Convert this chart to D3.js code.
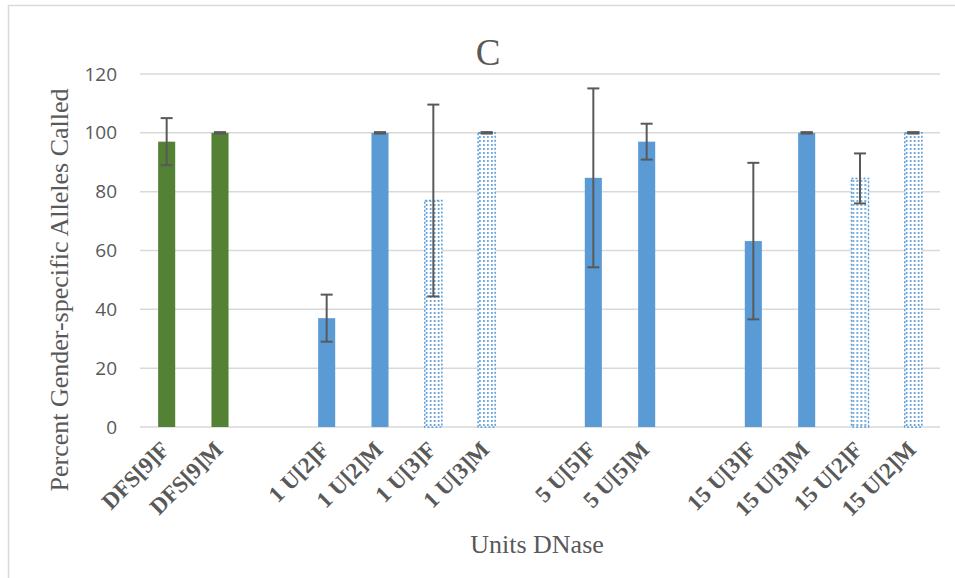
<!DOCTYPE html>
<html>
<head>
<meta charset="utf-8">
<script src="https://cdn.jsdelivr.net/npm/d3@7"></script>
<style>
  body { margin: 0; background: #fff; }
</style>
</head>
<body>
<svg id="chart"></svg>
<script>
// slots with empty keys for the gaps between groups
const categories = ['DFS[9]F', 'DFS[9]M', ' ', '1 U[2]F', '1 U[2]M', '1 U[3]F', '1 U[3]M', '  ',
  '5 U[5]F', '5 U[5]M', '   ', '15 U[3]F', '15 U[3]M', '15 U[2]F', '15 U[2]M']
const values = [97, 100, null, 37, 100, 77, 100, null, 84.7, 97, null, 63.2, 100, 84.5, 100]
const errors = [8, 0, null, 8, 0, 32.6, 0, null, 30.4, 6.1, null, 26.6, 0, 8.5, 0]
const styles = ['green', 'green', null, 'solid', 'solid', 'dots', 'dots', null,
  'solid', 'solid', null, 'solid', 'solid', 'dots', 'dots']
const yTicks = [0, 20, 40, 60, 80, 100, 120]

const width = 955
const height = 578
const margin = { left: 140, right: 15, top: 74, bottom: 151 }

const GREEN = '#548235'
const BLUE = '#5b9bd5'
const GRID = '#d9d9d9'
const TEXT = '#595959'
const SERIF = '"Liberation Serif", "Times New Roman", serif'
const SANS = '"Open Sans", "Liberation Sans", sans-serif'

const svg = d3.select('#chart')
  .attr('width', width)
  .attr('height', height)
  .attr('viewBox', [0, 0, width, height])

// outer chart frame
svg.append('rect')
  .attr('x', 8.5).attr('y', 5.5)
  .attr('width', 1000).attr('height', 700)
  .attr('fill', 'none')
  .attr('stroke', GRID)
  .attr('stroke-width', 1.5)

const x = d3.scaleBand()
  .domain(categories)
  .range([margin.left, width - margin.right])
  .paddingInner(0.68)
  .paddingOuter(0.34)

const y = d3.scaleLinear()
  .domain([0, 120])
  .range([height - margin.bottom, margin.top])

const rows = categories.map((c, i) => ({
  cat: c, value: values[i], err: errors[i], style: styles[i]
})).filter(d => d.value !== null)

// dot patterns, one per dotted bar so dots line up with the bar edge
const defs = svg.append('defs')
rows.filter(d => d.style === 'dots').forEach((d, i) => {
  const p = defs.append('pattern')
    .attr('id', 'dots' + i)
    .attr('patternUnits', 'userSpaceOnUse')
    .attr('x', x(d.cat) + 1)
    .attr('y', 0)
    .attr('width', 4)
    .attr('height', 4)
  p.append('rect').attr('width', 4).attr('height', 4).attr('fill', '#fff')
  p.append('rect').attr('x', 0).attr('y', 0).attr('width', 1.6).attr('height', 2).attr('fill', BLUE)
  d.patternId = 'dots' + i
})

// gridlines
svg.append('g')
  .selectAll('line')
  .data(yTicks)
  .join('line')
    .attr('x1', margin.left)
    .attr('x2', width - margin.right)
    .attr('y1', d => y(d))
    .attr('y2', d => y(d))
    .attr('stroke', GRID)
    .attr('stroke-width', 1.5)

// y tick labels
svg.append('g')
  .selectAll('text')
  .data(yTicks)
  .join('text')
    .style('font-family', SANS)
    .attr('x', 117)
    .attr('y', d => y(d))
    .attr('dy', '0.35em')
    .attr('text-anchor', 'end')
    .attr('font-size', 19)
    .attr('fill', TEXT)
    .text(d => d)

// bars
svg.append('g')
  .selectAll('rect')
  .data(rows)
  .join('rect')
    .attr('x', d => x(d.cat))
    .attr('width', x.bandwidth())
    .attr('y', d => y(d.value))
    .attr('height', d => y(0) - y(d.value))
    .attr('fill', d => d.style === 'green' ? GREEN : d.style === 'solid' ? BLUE : `url(#${d.patternId})`)
    .attr('stroke', d => d.style === 'dots' ? BLUE : 'none')
    .attr('stroke-width', 1.5)
    .attr('stroke-dasharray', d => d.style === 'dots' ? '2,2' : null)

// error bars
const eb = svg.append('g')
  .attr('stroke', TEXT)
  .attr('fill', 'none')
  .selectAll('g')
  .data(rows)
  .join('g')
    .attr('transform', d => `translate(${x(d.cat) + x.bandwidth() / 2},0)`)

eb.append('line')
  .attr('y1', d => y(d.value + d.err))
  .attr('y2', d => y(d.value - d.err))
  .attr('stroke-width', 2)
eb.append('line')
  .attr('x1', -6).attr('x2', 6)
  .attr('y1', d => y(d.value + d.err))
  .attr('y2', d => y(d.value + d.err))
  .attr('stroke-width', d => d.err === 0 ? 3 : 2)
eb.append('line')
  .attr('x1', -6).attr('x2', 6)
  .attr('y1', d => y(d.value - d.err))
  .attr('y2', d => y(d.value - d.err))
  .attr('stroke-width', d => d.err === 0 ? 3 : 2)

// x category labels, rotated
svg.append('g')
  .selectAll('text')
  .data(categories.filter(c => c.trim() !== ''))
  .join('text')
    .style('font-family', SERIF)
    .attr('transform', d => `translate(${x(d) + x.bandwidth() / 2 + 4},${y(0) + 24}) rotate(-45)`)
    .attr('text-anchor', 'end')
    .attr('font-weight', 'bold')
    .attr('font-size', 23)
    .attr('fill', TEXT)
    .text(d => d)

// title
svg.append('text')
  .style('font-family', SERIF)
  .attr('x', 488)
  .attr('y', 65)
  .attr('text-anchor', 'middle')
  .attr('font-size', 37)
  .attr('fill', TEXT)
  .text('C')

// axis titles
svg.append('text')
  .style('font-family', SERIF)
  .attr('x', 537)
  .attr('y', 553)
  .attr('text-anchor', 'middle')
  .attr('font-size', 26)
  .attr('fill', TEXT)
  .text('Units DNase')

svg.append('text')
  .style('font-family', SERIF)
  .attr('transform', 'translate(68,290) rotate(-90)')
  .attr('text-anchor', 'middle')
  .attr('font-size', 26)
  .attr('fill', TEXT)
  .text('Percent Gender-specific Alleles Called')
</script>
</body>
</html>
